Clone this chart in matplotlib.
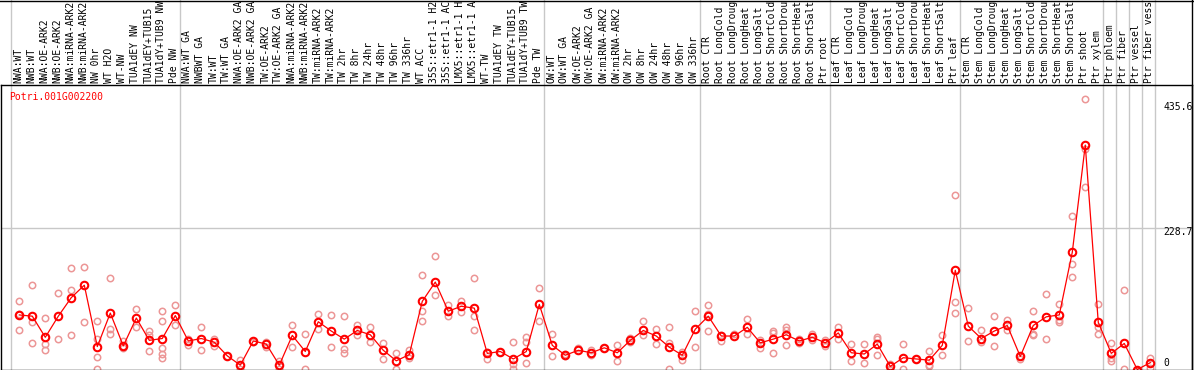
import matplotlib
matplotlib.use('Agg')
import matplotlib.pyplot as plt
from matplotlib.lines import Line2D

gene = 'Potri.001G002200'

# long names are shown cut off at the top edge in the original, keep what is visible
samples = [
    # NW
    'NWA:WT', 'NWB:WT', 'NWA:OE-ARK2', 'NWB:OE-ARK2', 'NWA:miRNA-ARK2', 'NWB:miRNA-ARK2',
    'NW 0hr', 'WT H2O', 'WT-NW', 'TUA1dEY NW', 'TUA1dEY+TUB15', 'TUA1dY+TUB9 NW', 'Pde NW',
    # TW
    'NWA:WT GA', 'NWBWT GA', 'TW:WT', 'TW:WT GA', 'NWA:OE-ARK2 GA', 'NWB:OE-ARK2 GA',
    'TW:OE-ARK2', 'TW:OE-ARK2 GA', 'NWA:miRNA-ARK2', 'NWB:miRNA-ARK2', 'TW:miRNA-ARK2',
    'TW:miRNA-ARK2', 'TW 2hr', 'TW 8hr', 'TW 24hr', 'TW 48hr', 'TW 96hr', 'TW 336hr', 'WT ACC',
    '35S::etr1-1 H2', '35S::etr1-1 AC', 'LMX5::etr1-1 H', 'LMX5::etr1-1 A', 'WT-TW',
    'TUA1dEY TW', 'TUA1dEY+TUB15', 'TUA1dY+TUB9 TW', 'Pde TW',
    # OW
    'OW:WT', 'OW:WT GA', 'OW:OE-ARK2', 'OW:OE-ARK2 GA', 'OW:miRNA-ARK2', 'OW:miRNA-ARK2',
    'OW 2hr', 'OW 8hr', 'OW 24hr', 'OW 48hr', 'OW 96hr', 'OW 336hr',
    # root
    'Root CTR', 'Root LongCold', 'Root LongDroug', 'Root LongHeat', 'Root LongSalt',
    'Root ShortCold', 'Root ShortDrou', 'Root ShortHeat', 'Root ShortSalt', 'Ptr root',
    # leaf
    'Leaf CTR', 'Leaf LongCold', 'Leaf LongDroug', 'Leaf LongHeat', 'Leaf LongSalt',
    'Leaf ShortCold', 'Leaf ShortDrou', 'Leaf ShortHeat', 'Leaf ShortSalt', 'Ptr leaf',
    # stem
    'Stem CTR', 'Stem LongCold', 'Stem LongDroug', 'Stem LongHeat', 'Stem LongSalt',
    'Stem ShortCold', 'Stem ShortDrou', 'Stem ShortHeat', 'Stem ShortSalt', 'Ptr shoot',
    'Ptr xylem', 'Ptr phloem', 'Ptr fiber', 'Ptr vessel', 'Ptr fiber vess',
]

# index of first sample in each block (separator lines)
group_starts = [0, 13, 41, 53, 63, 73, 84, 85, 86, 87, 88]

means = [
    88, 86, 52, 86, 116, 136, 37, 91, 38, 83, 47, 50, 87,
    46, 50, 44, 22, 7, 46, 41, 7, 55, 29, 77, 62, 49, 63, 56, 31, 14, 24, 110, 141, 94,
    102, 99, 26, 29, 17, 29, 105,
    39, 23, 31, 27, 35, 27, 47, 63, 54, 36, 23, 65,
    86, 54, 54, 68, 43, 49, 56, 46, 52, 43,
    59, 27, 25, 41, 5, 19, 17, 15, 39, 160,
    70, 50, 62, 71, 21, 71, 85, 88, 189, 362,
    76, 26, 42, 0, 11,
]

reps = [
    [110, 90, 63], [136, 77, 43], [83, 41, 31], [124, 49], [164, 128, 56], [166, 76],
    [78, 50, 20, 1], [148, 66, 58], [46, 34, 38], [98, 68], [62, 55, 30],
    [95, 79, 34, 25, 19], [104, 72],
    [50, 40], [68, 32], [49, 38], [22], [15, 1], [45], [45, 37], [14, 1], [71, 36], [57, 1],
    [90, 65], [88, 36], [87, 33, 27], [72, 56], [69, 45], [43, 17], [26, 1], [31, 19],
    [153, 95, 79], [183, 120], [104, 87], [110, 93], [147, 86, 63], [29, 17], [29],
    [44, 9, 1], [52, 45, 10], [131, 79],
    [57, 22], [25, 21], [34], [23, 31], [35], [39, 13], [51, 44], [79, 55], [65, 41],
    [68, 42, 1], [29, 15], [94, 36],
    [104, 90, 62], [56, 46], [58], [81, 57], [47, 35], [62, 59, 26], [68, 64, 40], [50, 42],
    [57, 47], [48, 38],
    [69, 50], [41, 14], [41, 10], [53, 49, 24], [9, 1], [41, 1], [17], [30, 8, 5], [56, 24],
    [281, 109, 91],
    [99, 46], [63, 44], [86, 38], [80, 63], [22, 17], [95, 58, 55], [121, 49], [105, 80, 77],
    [248, 170, 150], [437, 355, 295],
    [105, 69, 57], [42, 18, 13], [128, 1], [0], [19, 2],
]

yticks = [435.6, 228.7, 0]
ytick_labels = ['435.6', '228.7', '0']

W, H = 1194, 370
mono = 'DejaVu Sans Mono'
grey = '#c8c8c8'

fig = plt.figure(figsize=(W / 100, H / 100), dpi=100)
ax = fig.add_axes([1 / W, 0.5 / H, 1191 / W, 284.5 / H])
ax.set_xlim(-1.408, 90.21)
ax.set_ylim(0, 458.9)
ax.set_xticks([])
ax.set_yticks([])
for sp in ax.spines.values():
    sp.set_color('black')
    sp.set_linewidth(1.0)
    sp.set_zorder(5)

ax.axhline(228.7, color=grey, lw=1, zorder=0)
top_ext = 1 + 85 / 284.5
for g in group_starts:
    ax.plot([g - 0.62, g - 0.62], [0, top_ext], transform=ax.get_xaxis_transform(),
            color=grey, lw=1, clip_on=False, zorder=0)

fig.add_artist(Line2D([0, 1], [1 - 0.5 / H] * 2, color='black', lw=1))
fig.add_artist(Line2D([1191.5 / W] * 2, [0, 1], color='black', lw=1))

rx = [i for i, r in enumerate(reps) for _ in r]
ry = [v for r in reps for v in r]
ax.plot(rx, ry, 'o', ms=4.6, mfc='none', mec='#ec9696', mew=1.1, zorder=2)
ax.plot(range(len(means)), means, '-', color='red', lw=0.9, zorder=3)
ax.plot(range(len(means)), means, 'o', ms=5.4, mfc='none', mec='red', mew=1.5, zorder=4)

for i, s in enumerate(samples):
    ax.annotate(s, xy=(i, 1), xycoords=ax.get_xaxis_transform(), xytext=(-1, 2),
                textcoords='offset pixels', rotation=90, ha='center', va='bottom',
                fontsize=7, family=mono, annotation_clip=False)

ax.annotate(gene, xy=(0, 1), xycoords='axes fraction', xytext=(8, -12),
            textcoords='offset pixels', ha='left', va='center', color='red',
            fontsize=7, family=mono)

for v, t, dy in zip(yticks, ytick_labels, [-8, -4, 7]):
    ax.annotate(t, xy=(1, v), xycoords=('axes fraction', 'data'), xytext=(-29, dy),
                textcoords='offset pixels', ha='left', va='center', fontsize=7,
                family=mono, annotation_clip=False)

fig.savefig('out.png', dpi=100)
